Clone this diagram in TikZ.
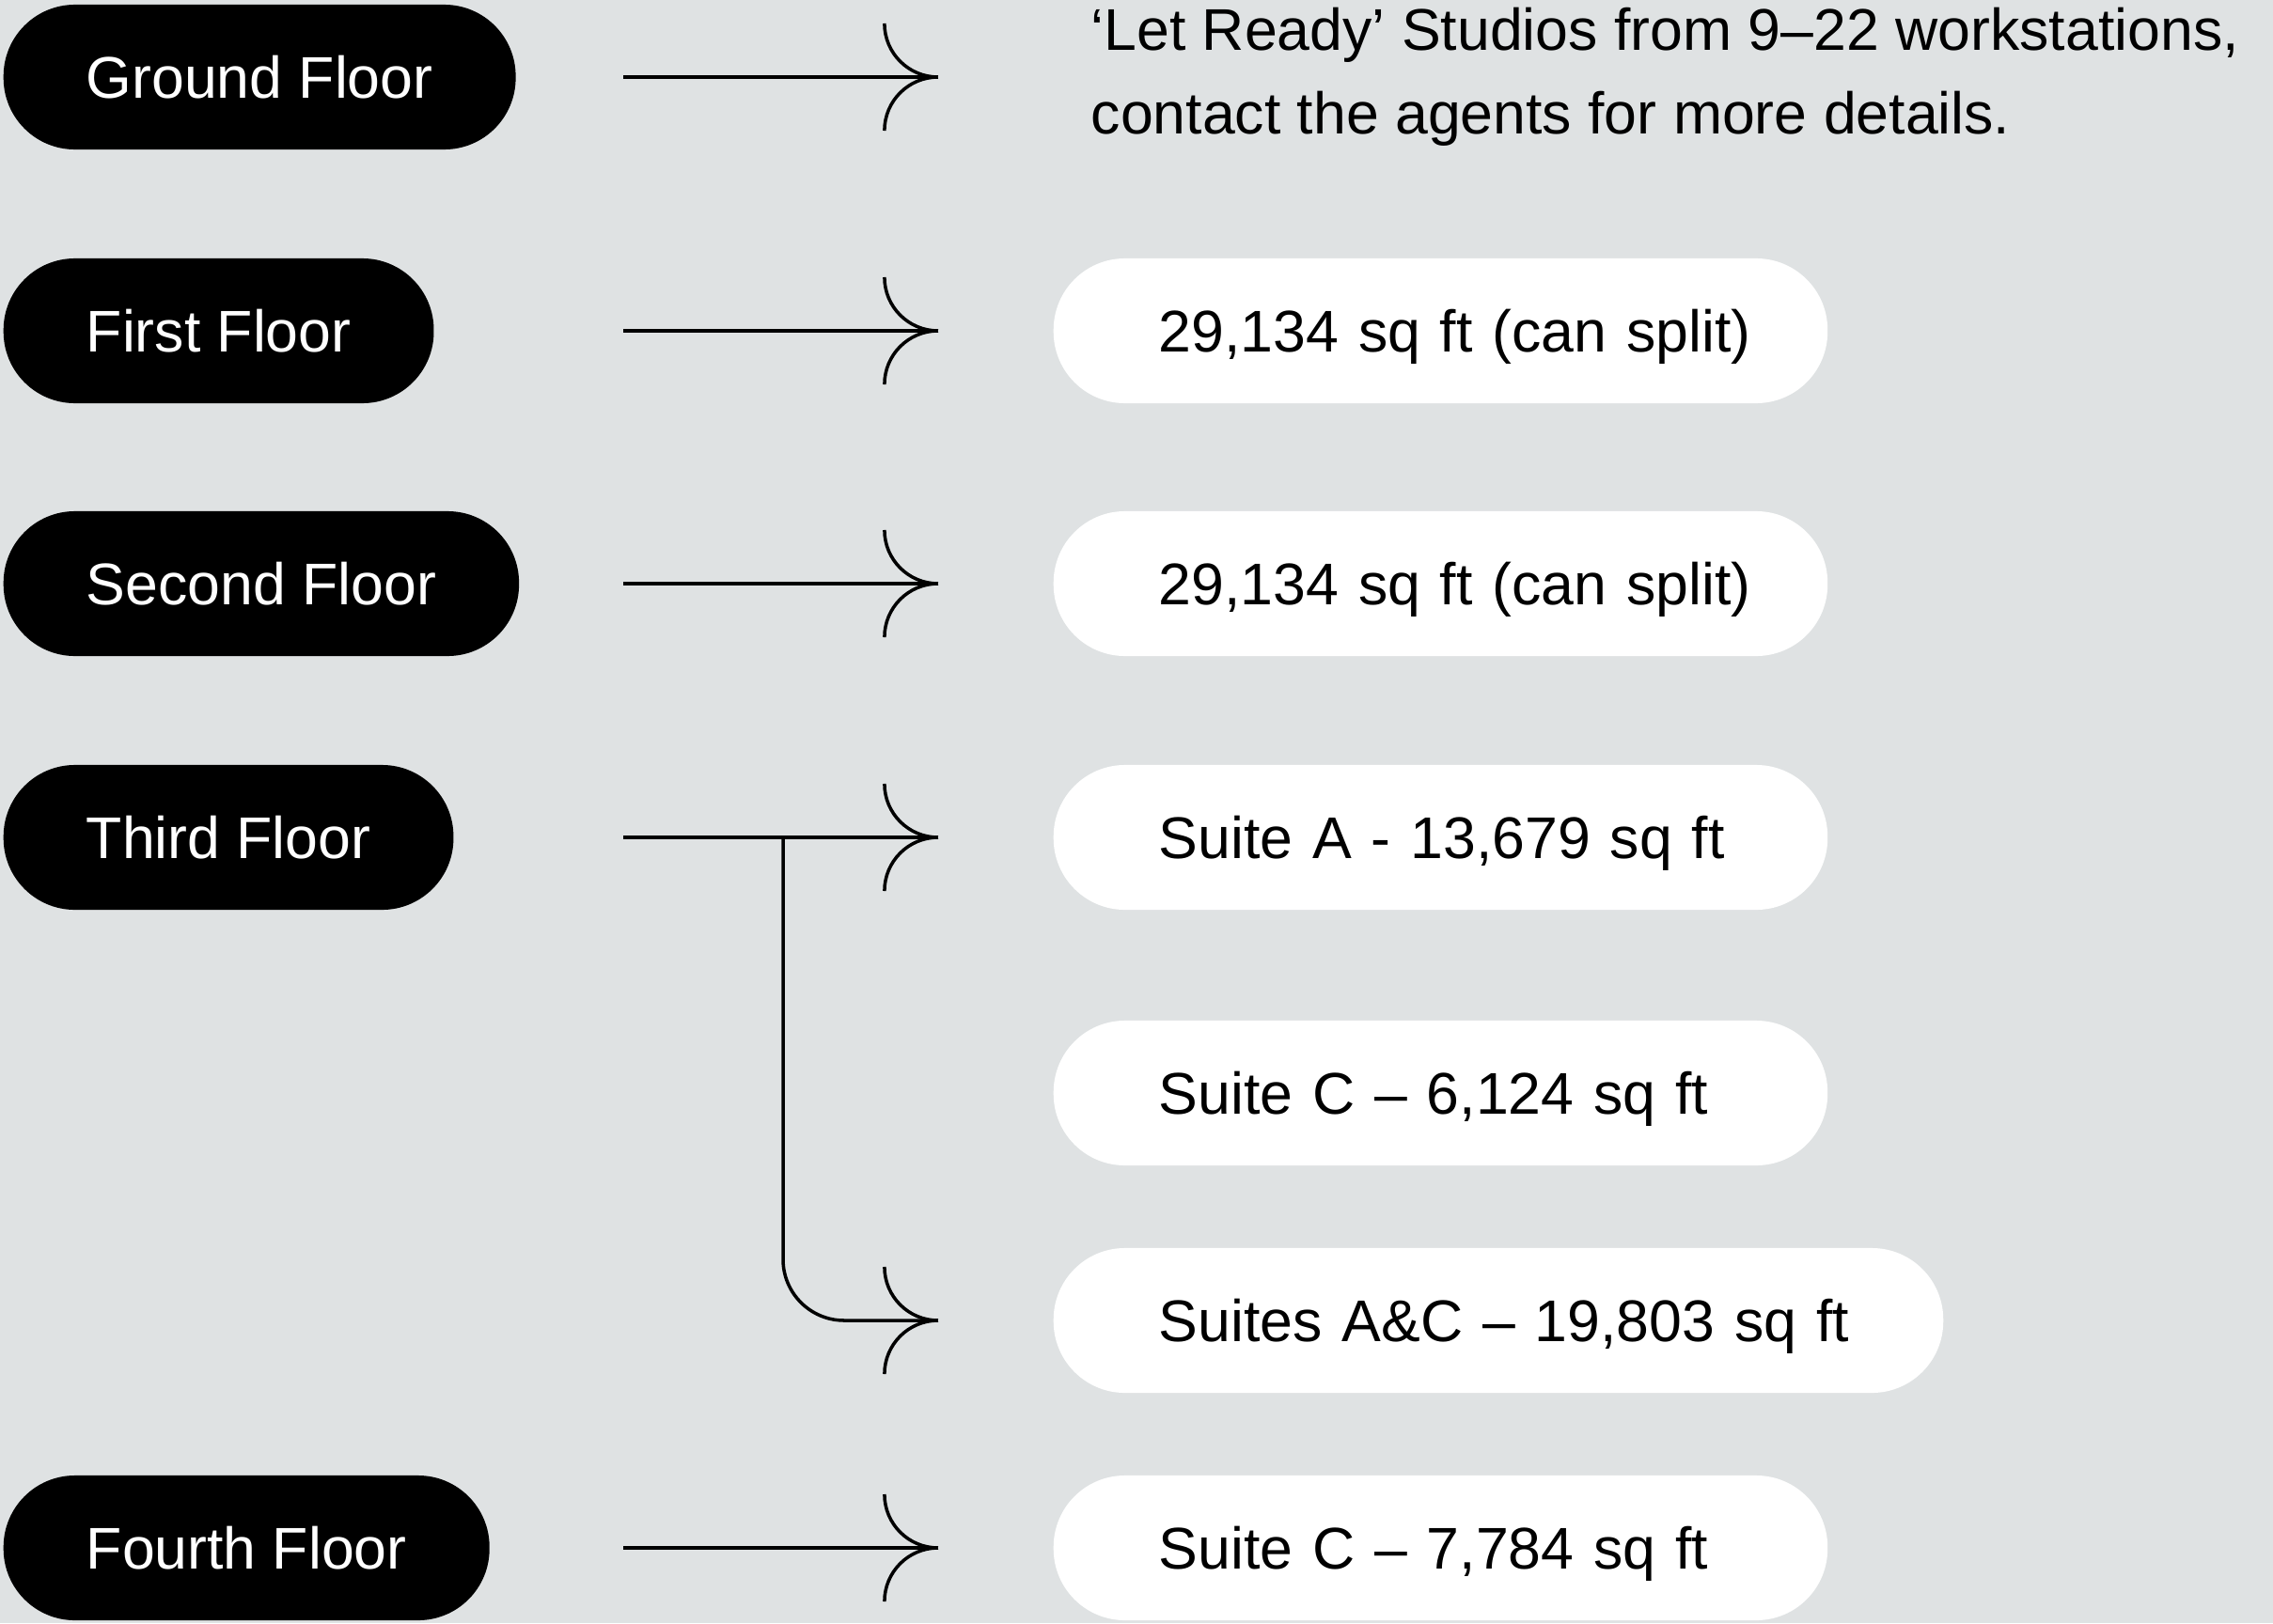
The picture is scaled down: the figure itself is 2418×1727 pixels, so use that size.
\documentclass[tikz,border=0pt]{standalone}
\usepackage{fontspec}
\setmainfont{Liberation Sans}
\usetikzlibrary{arrows.meta}
\definecolor{panel}{RGB}{223,226,227}

% open arrow head made of two quarter arcs
\pgfdeclarearrow{
  name = Curl,
  parameters = {\the\pgfarrowlength},
  setup code = {
    \pgfarrowssettipend{0pt}
    \pgfarrowssetlineend{0pt}
    \pgfarrowssetbackend{-\pgfarrowlength}
    \pgfarrowssetvisualbackend{-\pgfarrowlength}
    \pgfarrowsupperhullpoint{-\pgfarrowlength}{\pgfarrowlength}
    \pgfarrowsupperhullpoint{0pt}{0pt}
    \pgfarrowssavethe\pgfarrowlength
  },
  drawing code = {
    \pgfpathmoveto{\pgfqpoint{-\pgfarrowlength}{\pgfarrowlength}}
    \pgfpatharc{180}{270}{\pgfarrowlength}
    \pgfpathmoveto{\pgfqpoint{-\pgfarrowlength}{-\pgfarrowlength}}
    \pgfpatharc{180}{90}{\pgfarrowlength}
    \pgfusepathqstroke
  },
  defaults = {length = 5.7mm}
}

\tikzset
{
    floor/.style = {rectangle, fill=black, text=white, rounded corners=0.76cm,
                    minimum height=1.54cm, inner xsep=0.88cm, inner ysep=0pt,
                    text height=12.8pt, text depth=0pt, anchor=west},
    suite/.style = {rectangle, fill=white, rounded corners=0.76cm,
                    minimum height=1.54cm, inner xsep=0pt, inner ysep=0pt,
                    text width=8.23cm, align=left, text height=12.8pt,
                    text depth=0pt, anchor=west,
                    execute at begin node={\hspace*{1.12cm}}},
    link/.style = {line width=1pt, -{Curl}, shorten >=1.22cm}
}

\begin{document}
\begin{tikzpicture}[x=0.01cm, y=-0.01cm,
        font=\fontsize{17.8}{25.3}\selectfont]
    \fill[panel] (0,0) rectangle (2418,1727);

    % floors
    \node[floor] (ground) at (3,82)   {Ground Floor};
    \node[floor] (first)  at (3,352)  {First Floor};
    \node[floor] (second) at (3,621)  {Second Floor};
    \node[floor] (third)  at (3,891)  {Third Floor};
    \node[floor] (fourth) at (3,1647) {Fourth Floor};

    % what is on offer
    \node[anchor=west, align=left, inner sep=0pt] (studios) at (1160,82)
        {‘Let Ready’ Studios from 9–22 workstations,\\contact the agents for more details.};
    \node[suite] (firstarea)  at (1120,352)  {29,134 sq ft (can split)};
    \node[suite] (secondarea) at (1120,621)  {29,134 sq ft (can split)};
    \node[suite] (suitea)     at (1120,891)  {Suite A - 13,679 sq ft};
    \node[suite] (suitec)     at (1120,1163) {Suite C – 6,124 sq ft};
    \node[suite, text width=9.46cm] (suiteac) at (1120,1405) {Suites A\&C – 19,803 sq ft};
    \node[suite] (fourtharea) at (1120,1647) {Suite C – 7,784 sq ft};

    % arrows
    \coordinate (s1) at (663,82);
    \coordinate (s2) at (663,352);
    \coordinate (s3) at (663,621);
    \coordinate (s4) at (663,891);
    \coordinate (s5) at (663,1647);
    \coordinate (fork) at (833,891);

    \draw[link, shorten >=1.62cm] (s1) -- (studios);
    \draw[link] (s2) -- (firstarea);
    \draw[link] (s3) -- (secondarea);
    \draw[link] (s4) -- (suitea);
    \draw[link, rounded corners=0.65cm] (fork) |- (suiteac);
    \draw[link] (s5) -- (fourtharea);
\end{tikzpicture}
\end{document}
